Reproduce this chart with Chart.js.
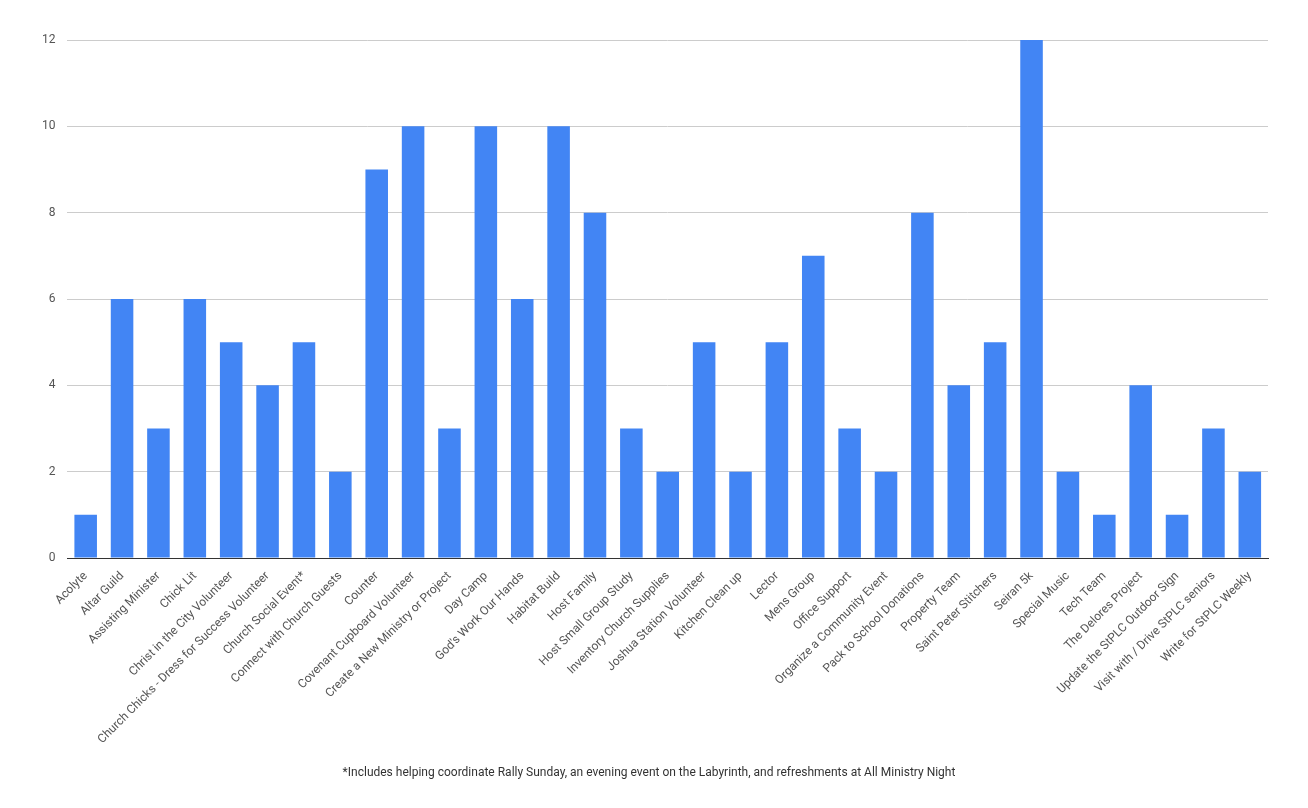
<!DOCTYPE html>
<html>
<head>
<meta charset="utf-8">
<script src="https://cdn.jsdelivr.net/npm/chart.js@4"></script>
<style>
  html, body { margin: 0; padding: 0; background: #fff; }
  #wrap { width: 1308px; height: 808px; }
</style>
</head>
<body>
<div id="wrap"><canvas id="myChart"></canvas></div>
<script>
'use strict'

var categories = ["Acolyte", "Altar Guild", "Assisting Minister", "Chick Lit", "Christ in the City Volunteer",
    "Church Chicks - Dress for Success Volunteer", "Church Social Event*", "Connect with Church Guests", "Counter",
    "Covenant Cupboard Volunteer", "Create a New Ministry or Project", "Day Camp", "God's Work Our Hands",
    "Habitat Build", "Host Family", "Host Small Group Study", "Inventory Church Supplies", "Joshua Station Volunteer",
    "Kitchen Clean up", "Lector", "Mens Group", "Office Support", "Organize a Community Event",
    "Pack to School Donations", "Property Team", "Saint Peter Stitchers", "Seiran 5k", "Special Music", "Tech Team",
    "The Delores Project", "Update the StPLC Outdoor Sign", "Visit with / Drive StPLC seniors", "Write for StPLC Weekly"];

var counts = [1, 6, 3, 6, 5, 4, 5, 2, 9, 10, 3, 10, 6, 10, 8, 3, 2, 5, 2, 5, 7, 3, 2, 8, 4, 5, 12, 2, 1, 4, 1, 3, 2];

var footnote = "*Includes helping coordinate Rally Sunday, an evening event on the Labyrinth, and refreshments at All Ministry Night";

Chart.defaults.font.family = 'Roboto';
Chart.defaults.color = '#555';

var ctx = document.getElementById('myChart').getContext('2d');

var chart = new Chart(ctx, {
    type: 'bar',
    data: {
        labels: categories,
        datasets: [{
            data: counts,
            backgroundColor: '#4285F4',
            barPercentage: 0.62,
            categoryPercentage: 1
        }]
    },
    options: {
        responsive: true,
        maintainAspectRatio: false,
        animation: false,
        layout: { padding: { left: 30, right: 40, top: 40, bottom: 28 } },
        plugins: {
            legend: { display: false },
            tooltip: { enabled: false },
            title: {
                display: true,
                position: 'bottom',
                text: footnote,
                color: '#333',
                font: { size: 12, weight: 'normal' },
                padding: { top: 16, bottom: 0 }
            }
        },
        scales: {
            x: {
                grid: { display: false },
                border: { color: '#333' },
                ticks: { minRotation: 45, maxRotation: 45, autoSkip: false, font: { size: 12 }, color: '#555' }
            },
            y: {
                min: 0,
                max: 12,
                grid: { color: '#ccc', drawTicks: false },
                border: { display: false },
                ticks: { stepSize: 2, padding: 12, font: { size: 12 }, color: '#555' }
            }
        }
    }
});
</script>
</body>
</html>
